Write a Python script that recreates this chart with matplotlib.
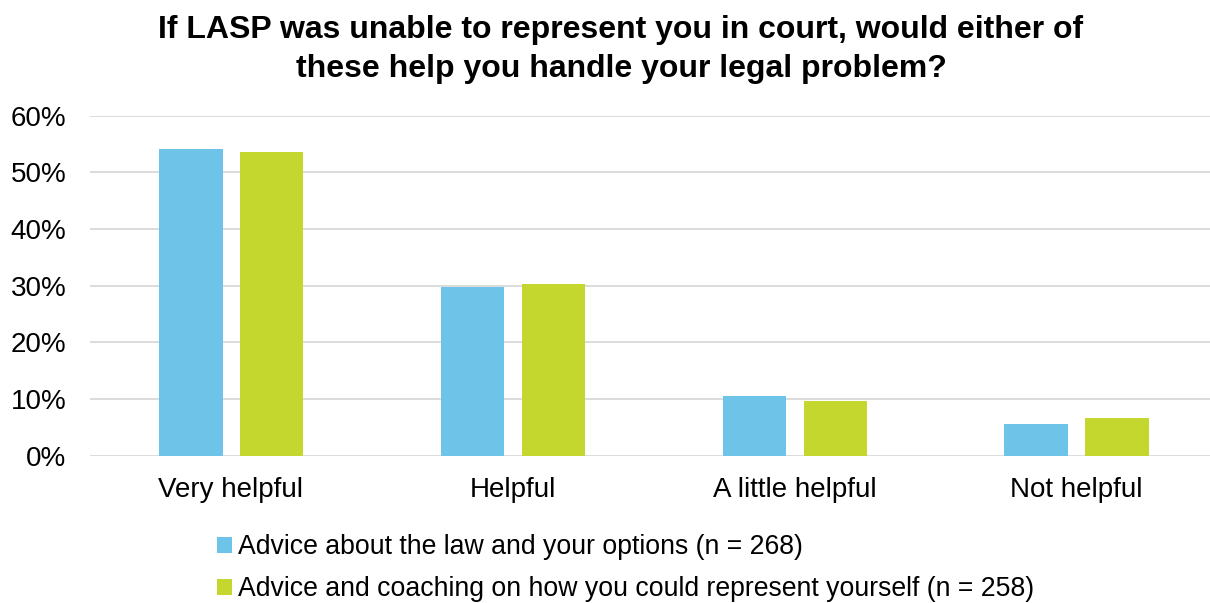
import matplotlib
matplotlib.use("Agg")
import matplotlib.pyplot as plt
import numpy as np
from matplotlib.ticker import FuncFormatter

plt.rcParams['font.family'] = ['Liberation Sans', 'DejaVu Sans']

categories = ["Very helpful", "Helpful", "A little helpful", "Not helpful"]
advice_law = [54.1, 29.8, 10.5, 5.6]
advice_coaching = [53.5, 30.3, 9.6, 6.6]
series_labels = [
    "Advice about the law and your options (n = 268)",
    "Advice and coaching on how you could represent yourself (n = 258)",
]
title = "If LASP was unable to represent you in court, would either of\nthese help you handle your legal problem?"

blue = "#6EC4E8"
green = "#C3D72E"
grid_color = "#D9D9D9"

fig = plt.figure(figsize=(12.10, 6.03), dpi=100)
ax = fig.add_axes([90 / 1210, 1 - 455.7 / 603, 1127 / 1210, (455.7 - 115.5) / 603])

x = np.arange(len(categories))
width = 0.225
ax.bar(x - 0.142, advice_law, width, color=blue, label=series_labels[0], zorder=3)
ax.bar(x + 0.145, advice_coaching, width, color=green, label=series_labels[1], zorder=3)

ax.set_xlim(-0.5, 3.5)
ax.set_ylim(0, 60)
ax.set_yticks(np.arange(0, 61, 10))
ax.yaxis.set_major_formatter(FuncFormatter(lambda v, p: f"{v:.0f}%"))
ax.set_xticks(x)
ax.set_xticklabels(categories)
ax.tick_params(axis='y', length=0, pad=17, labelsize=20, colors='#000000')
ax.tick_params(axis='x', length=0, pad=15, labelsize=20, colors='#000000')
ax.grid(axis='y', color=grid_color, linewidth=1.3, zorder=0)
for s in ax.spines.values():
    s.set_visible(False)

fig.text(621 / 1210, 1 - 49.5 / 603, title, ha='center', va='center',
         fontsize=23, fontweight='bold', linespacing=1.38)

fig.legend(loc='upper left', bbox_to_anchor=(217 / 1210, 1 - 534 / 603),
           frameon=False, fontsize=19.2, handlelength=0.55, handleheight=0.55,
           handletextpad=0.25, labelspacing=0.6, borderpad=0, borderaxespad=0)

fig.savefig("out.png", dpi=100)
